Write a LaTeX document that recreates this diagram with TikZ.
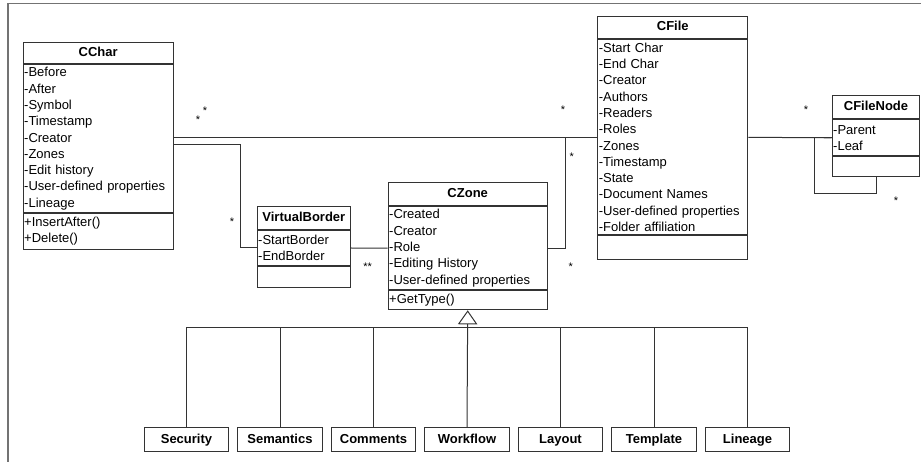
\documentclass[tikz,border=0pt]{standalone}
\usepackage{fontspec}
\setmainfont{Liberation Sans}
\usetikzlibrary{arrows.meta}
\usetikzlibrary{positioning}

\begin{document}
\begin{tikzpicture}[x=1pt, y=-1pt, line width=1pt, draw=black!80,
        every node/.style={font=\fontsize{13}{16.3}\selectfont, text=black},
        cname/.style={draw, inner sep=0pt, text height=9.5pt, text depth=2.8pt, font=\fontsize{13}{16.3}\selectfont\bfseries},
        cpart/.style={draw, inner xsep=1pt, inner ysep=0pt, align=left},
        sub/.style={draw, inner sep=0pt, minimum width=84.3pt, minimum height=24pt, text height=9.5pt, text depth=2.8pt, font=\fontsize{13}{16.3}\selectfont\bfseries},
        mult/.style={inner sep=0pt, font=\fontsize{11}{11}\selectfont}]
        \useasboundingbox (0,0) rectangle (921,462);
        \draw[black!55, line width=1.5pt] (8,462) -- (8,3.5) -- (921,3.5);

        % classes
        \node[cname, minimum width=150pt, minimum height=21.6pt, anchor=north west] (cchar) at (22.7,41.7) {CChar};
        \node[cpart, text width=148pt, minimum height=147.7pt, below=0pt of cchar] (cchar-a) {-Before\\-After\\-Symbol\\-Timestamp\\-Creator\\-Zones\\-Edit history\\-User-defined properties\\-Lineage};
        \node[cpart, text width=148pt, minimum height=35.7pt, below=0pt of cchar-a] (cchar-o) {+InsertAfter()\\+Delete()};

        \node[cname, minimum width=93.3pt, minimum height=23.3pt, anchor=north west] (vb) at (256.7,205.7) {VirtualBorder};
        \node[cpart, text width=91.3pt, minimum height=35pt, below=0pt of vb] (vb-a) {-StartBorder\\-EndBorder};
        \node[cpart, text width=91.3pt, minimum height=21pt, below=0pt of vb-a] (vb-o) {};

        \node[cname, minimum width=159pt, minimum height=22.7pt, anchor=north west] (czone) at (387.7,182.3) {CZone};
        \node[cpart, text width=157pt, minimum height=83.3pt, below=0pt of czone] (czone-a) {-Created\\-Creator\\-Role\\-Editing History\\-User-defined properties};
        \node[cpart, text width=157pt, minimum height=19pt, below=0pt of czone-a] (czone-o) {+GetType()};

        \node[cname, minimum width=150pt, minimum height=22.3pt, anchor=north west] (cfile) at (597.3,16) {CFile};
        \node[cpart, text width=148pt, minimum height=195pt, below=0pt of cfile] (cfile-a) {-Start Char\\-End Char\\-Creator\\-Authors\\-Readers\\-Roles\\-Zones\\-Timestamp\\-State\\-Document Names\\-User-defined properties\\-Folder affiliation};
        \node[cpart, text width=148pt, minimum height=23.4pt, below=0pt of cfile-a] (cfile-o) {};

        \node[cname, minimum width=87.6pt, minimum height=23.3pt, anchor=north west] (cfnode) at (831.7,95) {CFileNode};
        \node[cpart, text width=85.6pt, minimum height=36pt, below=0pt of cfnode] (cfnode-a) {-Parent\\-Leaf};
        \node[cpart, text width=85.6pt, minimum height=20pt, below=0pt of cfnode-a] (cfnode-o) {};

        % zone types
        \foreach \name/\txt [count=\i from 0] in {security/Security, semantics/Semantics, comments/Comments, workflow/Workflow, layout/Layout, template/Template, lineage/Lineage}
            \node[sub] (\name) at (186.5+93.5*\i,439.7) {\txt};

        % associations
        \draw (cchar-a.east |- cfile-a.west) -- (cfile-a.west);
        \draw ([yshift=-6pt]cchar-a.east) -- ++(67,0) |- (vb-a.west);
        \draw (vb-a.east) -- (czone-a.west);
        \draw (czone-a.east) -- ++(17.5,0) |- (cfile-a.west);
        \draw (cfile-a.east) -- (cfnode-a.west);
        \draw (cfnode-a.west) -- ++(-17.7,0) -- ++(0,55.4) -| (cfnode-o.south);

        % generalization
        \coordinate (bus) at (467,327.3);
        \draw[-{Triangle[open, length=14pt, width=19.4pt]}] (workflow.north) -- (czone-o.south);
        \draw (security.north) -- (security.north |- bus) -- (lineage.north |- bus) -- (lineage.north);
        \foreach \name in {semantics, comments, layout, template}
            \draw (\name.north) -- (\name.north |- bus);

        % multiplicities
        \node[mult] (mcc1) at (205,110.5) {*};
        \node[mult] (mcc2) at (198,119.5) {*};
        \node[mult] (mvb) at (232,221.5) {*};
        \node[mult] (mvz) at (367.7,266.8) {**};
        \node[mult] (mcf) at (563,110.2) {*};
        \node[mult] (mcz) at (571.7,156.5) {*};
        \node[mult] (mzf) at (570.7,266.8) {*};
        \node[mult] (mfn1) at (806,110.2) {*};
        \node[mult] (mfn2) at (896,200.8) {*};
\end{tikzpicture}
\end{document}
